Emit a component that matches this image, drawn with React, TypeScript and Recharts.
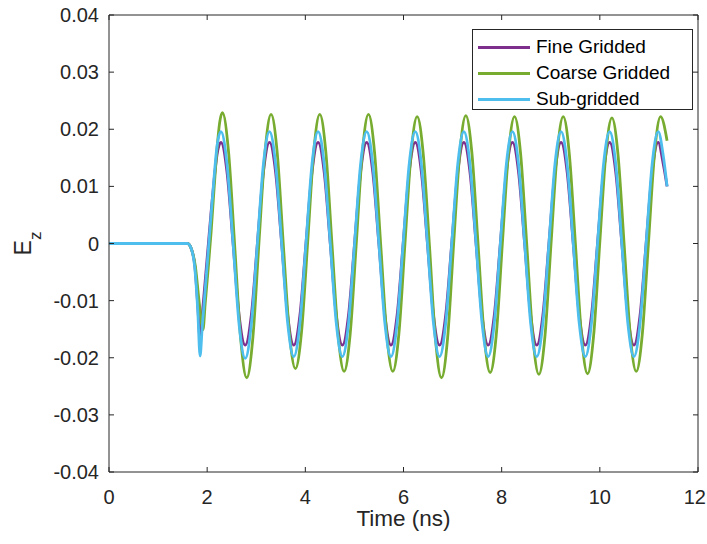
import React from 'react';
import { LineChart, Line, XAxis, YAxis, Legend, Label } from 'recharts';

const FONT = '"Liberation Sans", Arial, Helvetica, sans-serif';
const AXIS = '#262626';
const CHART_W = 707;
const CHART_H = 544;
const TICK_FS = 20;

const seriesNames = ['Fine Gridded', 'Coarse Gridded', 'Sub-gridded'];
const seriesColors = ['#7E2F8E', '#77AC30', '#4DBEEE'];

const xTicks = [0, 2, 4, 6, 8, 10, 12];
const xTickLabels = ['0', '2', '4', '6', '8', '10', '12'];
const yTicks = [-0.04, -0.03, -0.02, -0.01, 0, 0.01, 0.02, 0.03, 0.04];
const yTickLabels = ['-0.04', '-0.03', '-0.02', '-0.01', '0', '0.01', '0.02', '0.03', '0.04'];

// time samples (ns) shared by Fine Gridded and Sub-gridded
const fineTime = [
  0, 1.6, 1.68, 1.75, 1.81, 1.855, 1.9, 1.96, 2.02, 2.08, 2.14, 2.2,
  2.28, 2.404, 2.528, 2.651, 2.775, 2.899, 3.023, 3.146,
  3.27, 3.394, 3.518, 3.641, 3.765, 3.889, 4.013, 4.136,
  4.26, 4.384, 4.508, 4.631, 4.755, 4.879, 5.003, 5.126,
  5.25, 5.374, 5.498, 5.621, 5.745, 5.869, 5.993, 6.116,
  6.24, 6.364, 6.488, 6.611, 6.735, 6.859, 6.983, 7.106,
  7.23, 7.354, 7.478, 7.601, 7.725, 7.849, 7.973, 8.096,
  8.22, 8.344, 8.468, 8.591, 8.715, 8.839, 8.963, 9.086,
  9.21, 9.334, 9.458, 9.581, 9.705, 9.829, 9.953, 10.076,
  10.2, 10.324, 10.448, 10.571, 10.695, 10.819, 10.943, 11.066,
  11.19, 11.29, 11.37,
];

const fineValues = [
  0, 0, -0.001, -0.004, -0.011, -0.0168, -0.0125, -0.0065, -0.0005, 0.0055, 0.011, 0.0155,
  0.0177, 0.0125, 0, -0.0126, -0.0178, -0.0126, 0, 0.0125,
  0.0177, 0.0125, 0, -0.0126, -0.0178, -0.0126, 0, 0.0125,
  0.0177, 0.0125, 0, -0.0126, -0.0178, -0.0126, 0, 0.0125,
  0.0177, 0.0125, 0, -0.0126, -0.0178, -0.0126, 0, 0.0125,
  0.0177, 0.0125, 0, -0.0126, -0.0178, -0.0126, 0, 0.0125,
  0.0177, 0.0125, 0, -0.0126, -0.0178, -0.0126, 0, 0.0125,
  0.0177, 0.0125, 0, -0.0126, -0.0178, -0.0126, 0, 0.0125,
  0.0177, 0.0125, 0, -0.0126, -0.0178, -0.0126, 0, 0.0125,
  0.0177, 0.0125, 0, -0.0126, -0.0178, -0.0126, 0, 0.0125,
  0.0177, 0.014, 0.01,
];

const subValues = [
  0, 0, -0.001, -0.0045, -0.012, -0.0197, -0.0145, -0.008, -0.0015, 0.005, 0.0115, 0.017,
  0.0196, 0.0139, 0, -0.0142, -0.0201, -0.0142, 0, 0.0139,
  0.0196, 0.0139, 0, -0.014, -0.0198, -0.014, 0, 0.0139,
  0.0196, 0.0139, 0, -0.014, -0.0198, -0.014, 0, 0.0139,
  0.0196, 0.0139, 0, -0.014, -0.0198, -0.014, 0, 0.0139,
  0.0196, 0.0139, 0, -0.014, -0.0198, -0.014, 0, 0.0139,
  0.0196, 0.0139, 0, -0.014, -0.0198, -0.014, 0, 0.0139,
  0.0196, 0.0139, 0, -0.014, -0.0198, -0.014, 0, 0.0139,
  0.0196, 0.0139, 0, -0.014, -0.0198, -0.014, 0, 0.0139,
  0.0196, 0.0139, 0, -0.014, -0.0198, -0.014, 0, 0.0139,
  0.0196, 0.0155, 0.01,
];

const coarseTime = [
  0, 1.6, 1.68, 1.76, 1.84, 1.915, 1.96, 2.02, 2.08, 2.14, 2.2, 2.255,
  2.31, 2.434, 2.558, 2.682, 2.806, 2.93, 3.054, 3.178,
  3.302, 3.426, 3.55, 3.674, 3.798, 3.922, 4.046, 4.17,
  4.294, 4.418, 4.542, 4.666, 4.79, 4.914, 5.038, 5.162,
  5.286, 5.41, 5.534, 5.658, 5.782, 5.906, 6.03, 6.154,
  6.278, 6.402, 6.526, 6.65, 6.774, 6.898, 7.022, 7.146,
  7.27, 7.394, 7.518, 7.642, 7.766, 7.89, 8.014, 8.138,
  8.262, 8.386, 8.51, 8.634, 8.758, 8.882, 9.006, 9.13,
  9.254, 9.378, 9.502, 9.626, 9.75, 9.874, 9.998, 10.122,
  10.246, 10.37, 10.494, 10.618, 10.742, 10.866, 10.99, 11.114,
  11.238, 11.37,
];

const coarseValues = [
  0, 0, -0.001, -0.004, -0.0105, -0.0151, -0.0105, -0.0045, 0.002, 0.0095, 0.0165, 0.0212,
  0.0229, 0.0162, 0, -0.0166, -0.0235, -0.0166, 0, 0.016,
  0.0226, 0.016, 0, -0.0155, -0.0219, -0.0155, 0, 0.016,
  0.0226, 0.016, 0, -0.0158, -0.0224, -0.0158, 0, 0.016,
  0.0226, 0.016, 0, -0.0158, -0.0224, -0.0158, 0, 0.0157,
  0.0222, 0.0157, 0, -0.0166, -0.0235, -0.0166, 0, 0.0158,
  0.0224, 0.0158, 0, -0.016, -0.0226, -0.016, 0, 0.0157,
  0.0222, 0.0157, 0, -0.0162, -0.0229, -0.0162, 0, 0.0157,
  0.0222, 0.0157, 0, -0.0161, -0.0228, -0.0161, 0, 0.0156,
  0.022, 0.0156, 0, -0.0158, -0.0224, -0.0158, 0, 0.0157,
  0.0222, 0.018,
];

const toRows = (ts: number[], vs: number[]) => ts.map((t, i) => ({ t, v: vs[i] }));

const fineRows = toRows(fineTime, fineValues);
const coarseRows = toRows(coarseTime, coarseValues);
const subRows = toRows(fineTime, subValues);

const fmtX = (v: number) => {
  const i = xTicks.findIndex((t) => Math.abs(t - v) < 1e-9);
  return i >= 0 ? xTickLabels[i] : '';
};
const fmtY = (v: number) => {
  const i = yTicks.findIndex((t) => Math.abs(t - v) < 1e-9);
  return i >= 0 ? yTickLabels[i] : '';
};
const blank = () => '';

// bottom tick label kept inside the window's right edge
const XTick = (props: any) => {
  const { x, y, payload } = props;
  const label = fmtX(payload.value);
  const half = label.length * 0.278 * TICK_FS;
  const cx = Math.min(x, CHART_W - 1 - half);
  return (
    <text x={cx} y={y} dy="0.71em" textAnchor="middle" fill={AXIS} fontSize={TICK_FS} fontFamily={FONT}>
      {label}
    </text>
  );
};

const YLabel = (props: any) => {
  const vb = props.viewBox || { x: 0, y: 0, width: 0, height: 0 };
  const cx = vb.x + 31;
  const cy = vb.y + vb.height / 2;
  return (
    <text
      x={cx}
      y={cy}
      transform={`rotate(-90, ${cx}, ${cy})`}
      textAnchor="middle"
      fill={AXIS}
      fontSize={23}
      fontFamily={FONT}
    >
      E<tspan fontSize={17} dy={10}>z</tspan>
    </text>
  );
};

const LegendBox = () => (
  <div
    style={{
      width: 221,
      height: 81,
      boxSizing: 'border-box',
      border: `1px solid ${AXIS}`,
      background: '#fff',
      paddingTop: 4,
      fontFamily: FONT,
    }}
  >
    {seriesNames.map((name, i) => (
      <div key={name} style={{ display: 'flex', alignItems: 'center', height: 26, paddingLeft: 5 }}>
        <span style={{ display: 'inline-block', width: 52, height: 3, background: seriesColors[i], marginRight: 6 }} />
        <span style={{ fontSize: 19, color: '#000', lineHeight: '26px', whiteSpace: 'nowrap' }}>{name}</span>
      </div>
    ))}
  </div>
);

export default function App() {
  const tickStyle = { fill: AXIS, fontSize: TICK_FS, fontFamily: FONT };
  const lineCommon = {
    xAxisId: 'b',
    yAxisId: 'l',
    dataKey: 'v',
    strokeWidth: 2.8,
    type: 'monotone' as const,
    dot: false,
    activeDot: false,
    isAnimationActive: false,
  };
  return (
    <div style={{ width: CHART_W, height: CHART_H }}>
      <style>{`html,body{margin:0;padding:0;overflow:hidden}`}</style>
      <LineChart width={CHART_W} height={CHART_H} margin={{ top: 14, right: 8, bottom: 0, left: 0 }}>
        <XAxis
          xAxisId="b"
          type="number"
          dataKey="t"
          domain={[0, 12]}
          ticks={xTicks}
          tickFormatter={fmtX}
          orientation="bottom"
          height={72}
          stroke={AXIS}
          tickSize={-5}
          tickMargin={23}
          tick={<XTick />}
          allowDataOverflow
        >
          <Label
            value="Time (ns)"
            position="insideBottom"
            offset={18}
            style={{ fill: AXIS, fontSize: 22.5, fontFamily: FONT }}
          />
        </XAxis>
        <XAxis
          xAxisId="t"
          type="number"
          dataKey="t"
          domain={[0, 12]}
          ticks={xTicks}
          tickFormatter={blank}
          orientation="top"
          height={1}
          stroke={AXIS}
          tickSize={-5}
          allowDataOverflow
        />
        <YAxis
          yAxisId="l"
          type="number"
          domain={[-0.04, 0.04]}
          ticks={yTicks}
          tickFormatter={fmtY}
          width={109}
          stroke={AXIS}
          tickSize={-5}
          tickMargin={15}
          tick={tickStyle}
          allowDataOverflow
          label={<YLabel />}
        />
        <YAxis
          yAxisId="r"
          orientation="right"
          type="number"
          domain={[-0.04, 0.04]}
          ticks={yTicks}
          tickFormatter={blank}
          width={1}
          stroke={AXIS}
          tickSize={-5}
          allowDataOverflow
        />
        <Legend
          layout="horizontal"
          verticalAlign="middle"
          align="center"
          content={<LegendBox />}
          wrapperStyle={{ top: 29, left: 472, width: 221, height: 81 }}
        />
        <Line {...lineCommon} data={fineRows} name={seriesNames[0]} stroke={seriesColors[0]} />
        <Line {...lineCommon} data={coarseRows} name={seriesNames[1]} stroke={seriesColors[1]} />
        <Line {...lineCommon} data={subRows} name={seriesNames[2]} stroke={seriesColors[2]} />
      </LineChart>
    </div>
  );
}
